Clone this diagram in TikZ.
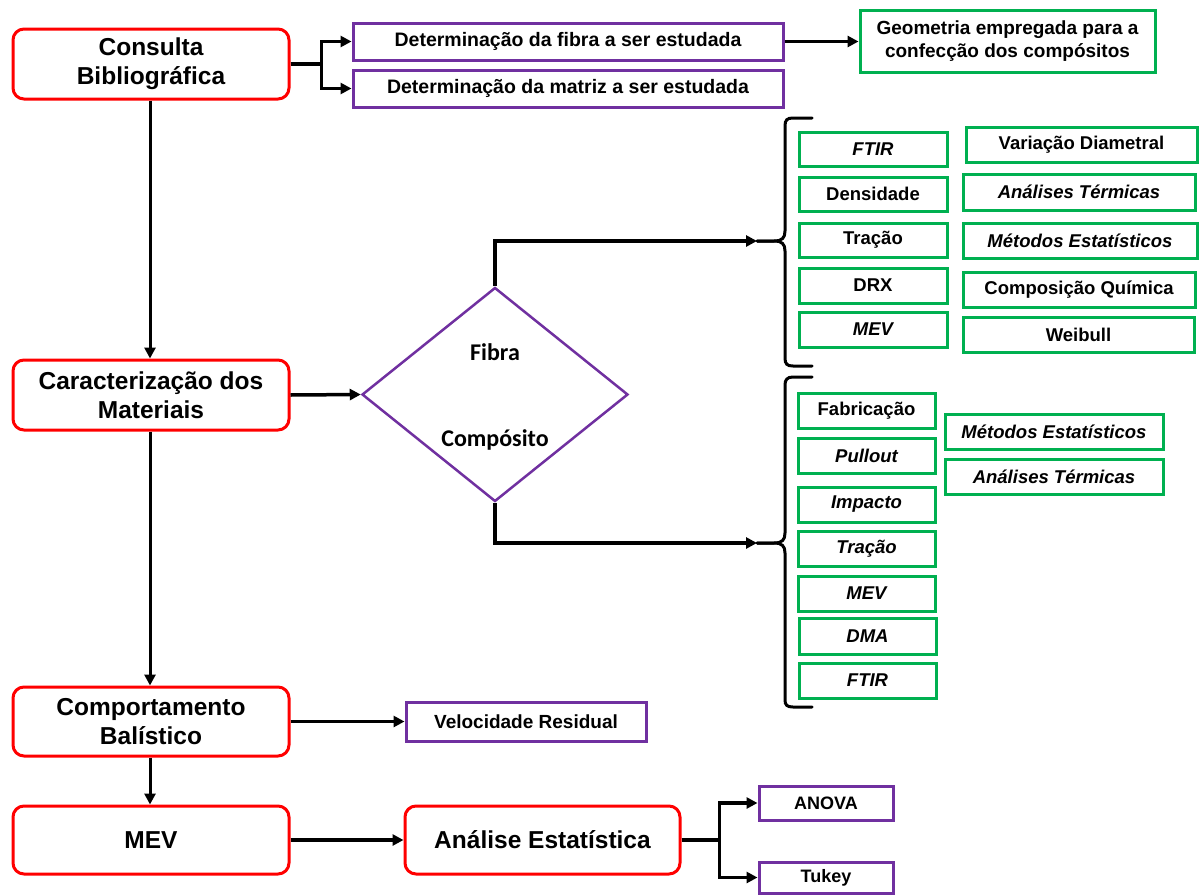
\documentclass[tikz,border=0pt]{standalone}
\usepackage{fontspec}
\setmainfont{Liberation Sans}
\newfontfamily\calib{Carlito}
\usetikzlibrary{arrows.meta,shapes.geometric}
\definecolor{redc}{HTML}{FF0000}
\definecolor{purc}{HTML}{7030A0}
\definecolor{grnc}{HTML}{00B050}
% box from its corners: name, style, x1, y1, x2, y2, text
\newcommand\cornerbox[7]{\node[#2, minimum width={#5-#3}, minimum height={#6-#4}] (#1) at ({(#3+#5)/2},{(#4+#6)/2}) {#7};}
\tikzset{
  base/.style={inner sep=0pt, align=center, font=\bfseries},
  redbox/.style={base, draw=redc, line width=3pt, rounded corners=11pt, fill=white,
    font=\bfseries\fontsize{24.5}{29}\selectfont},
  purbox/.style={base, draw=purc, line width=3pt, font=\bfseries\fontsize{19.5}{23}\selectfont},
  grnbox/.style={base, draw=grnc, line width=3pt, font=\bfseries\fontsize{18.5}{22}\selectfont},
  itl/.style={font=\bfseries\itshape\fontsize{18.5}{22}\selectfont},
  arr/.style={line width=3.5pt, -{Triangle[length=11pt,width=11pt]}},
  bracepath/.style={line width=3pt, line cap=round},
}
\begin{document}
\begin{tikzpicture}[x=1pt,y=-1pt]
\useasboundingbox (0,0) rectangle (1199,894);

% main column
\cornerbox{cb}{redbox}{13}{29}{289}{99}{Consulta\\Bibliográfica}
\cornerbox{cm}{redbox}{13}{360}{289}{430}{Caracterização dos\\Materiais}
\cornerbox{bal}{redbox}{13}{687}{289}{756}{Comportamento\\Balístico}
\cornerbox{mev}{redbox}{13}{806}{289}{874}{MEV}
\cornerbox{ae}{redbox}{405}{806}{680}{874}{Análise Estatística}

% literature branch
\cornerbox{dfib}{purbox}{353}{23}{783}{60}{Determinação da fibra a ser estudada}
\cornerbox{dmat}{purbox}{353}{70}{783}{107}{Determinação da matriz a ser estudada}
\cornerbox{geo}{grnbox, font=\bfseries\fontsize{19}{23}\selectfont}{860}{10}{1155}{72}{Geometria empregada para a\\confecção dos compósitos}

% ballistics and statistics
\cornerbox{vr}{purbox, font=\bfseries\fontsize{19}{22}\selectfont}{406}{702}{646}{741}{Velocidade Residual}
\cornerbox{anova}{purbox, font=\bfseries\fontsize{18}{21}\selectfont}{759}{786}{893}{820}{ANOVA}
\cornerbox{tukey}{purbox, font=\bfseries\fontsize{18}{21}\selectfont}{759}{862}{893}{893}{Tukey}

% decision diamond
\node[diamond, draw=purc, line width=2.5pt, inner sep=0pt, minimum width=266, minimum height=214] (dia) at (495,394.5) {};
\node[font=\calib\bfseries\fontsize{24}{28}\selectfont] (tfib) at (495,352) {Fibra};
\node[font=\calib\bfseries\fontsize{24}{28}\selectfont] (tcomp) at (495,440) {Compósito};

% fibre tests
\cornerbox{f1}{grnbox, itl}{799}{132}{947}{166}{FTIR}
\cornerbox{f2}{grnbox}{799}{177}{947}{211}{Densidade}
\cornerbox{f3}{grnbox}{799}{223}{947}{257}{Tração}
\cornerbox{f4}{grnbox}{799}{268}{947}{303}{DRX}
\cornerbox{f5}{grnbox, itl}{799}{312}{947}{347}{MEV}
\cornerbox{g1}{grnbox}{966}{127}{1197}{162}{Variação Diametral}
\cornerbox{g2}{grnbox, itl}{963}{174}{1195}{210}{Análises Térmicas}
\cornerbox{g3}{grnbox, itl}{963}{223}{1197}{258}{Métodos Estatísticos}
\cornerbox{g4}{grnbox}{963}{272}{1195}{307}{Composição Química}
\cornerbox{g5}{grnbox}{963}{317}{1194}{352}{Weibull}

% composite tests
\cornerbox{c1}{grnbox}{798}{393}{935}{428}{Fabricação}
\cornerbox{c2}{grnbox, itl}{798}{438}{935}{473}{Pullout}
\cornerbox{c3}{grnbox, itl}{798}{487}{935}{522}{Impacto}
\cornerbox{c4}{grnbox, itl}{798}{531}{935}{566}{Tração}
\cornerbox{c5}{grnbox, itl}{798}{576}{935}{611}{MEV}
\cornerbox{c6}{grnbox, itl}{799}{618}{936}{654}{DMA}
\cornerbox{c7}{grnbox, itl}{799}{663}{936}{698}{FTIR}
\cornerbox{h1}{grnbox, itl}{945}{414}{1163}{449}{Métodos Estatísticos}
\cornerbox{h2}{grnbox, itl}{945}{459}{1163}{494}{Análises Térmicas}

% brace tips
\coordinate (btop) at (757,241);
\coordinate (bbot) at (757,543);

% braces
\draw[bracepath] (btop) -- (774,241) .. controls (782,241) and (785,238) .. (785,231)
  -- (785,126) .. controls (785,120) and (787,118) .. (793,118) -- (812,118);
\draw[bracepath] (btop) -- (774,241) .. controls (782,241) and (785,244) .. (785,251)
  -- (785,358) .. controls (785,364) and (787,366) .. (793,366) -- (812,366);
\draw[bracepath] (bbot) -- (774,543) .. controls (782,543) and (785,540) .. (785,533)
  -- (785,385) .. controls (785,380) and (787,377) .. (793,377) -- (812,377);
\draw[bracepath] (bbot) -- (774,543) .. controls (782,543) and (785,546) .. (785,553)
  -- (785,700) .. controls (785,705) and (787,707) .. (793,707) -- (812,707);

% connectors
\draw[arr] (cb.east) -- ++(31,0) |- (dfib.west);
\draw[arr] (cb.east) -- ++(31,0) |- (dmat.west);
\draw[arr] (dfib.east) -- (geo.west |- dfib.east);
\draw[arr, line width=3pt] (cb.south -| 150,0) -- (cm.north -| 150,0);
\draw[arr] (cm.east) -- (dia.west);
\draw[arr] (dia.north) |- (btop);
\draw[arr] (dia.south) |- (bbot);
\draw[arr, line width=3pt] (cm.south -| 150,0) -- (bal.north -| 150,0);
\draw[arr] (bal.east) -- (vr.west);
\draw[arr, line width=3pt] (bal.south -| 150,0) -- (mev.north -| 150,0);
\draw[arr] (mev.east) -- (ae.west);
\draw[arr] (ae.east) -- ++(38,0) |- (anova.west);
\draw[arr] (ae.east) -- ++(38,0) |- (tukey.west);
\end{tikzpicture}
\end{document}
